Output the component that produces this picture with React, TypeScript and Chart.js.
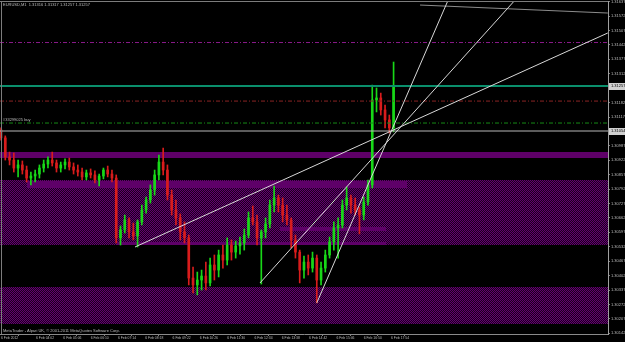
import { useEffect, useRef } from "react";
import { Chart, registerables } from "chart.js";

Chart.register(...registerables);

// ---- candle data (EURUSD, 6 Feb 2012), 10-minute candles ----
const candleTimes = [
  "02:40", "02:50",
  "03:00", "03:10", "03:20", "03:30", "03:40", "03:50",
  "04:00", "04:10", "04:20", "04:30", "04:40", "04:50",
  "05:00", "05:10", "05:20", "05:30", "05:40", "05:50",
  "06:00", "06:10", "06:20", "06:30", "06:40", "06:50",
  "07:00", "07:10", "07:20", "07:30", "07:40", "07:50",
  "08:00", "08:10", "08:20", "08:30", "08:40", "08:50",
  "09:00", "09:10", "09:20", "09:30", "09:40", "09:50",
  "10:00", "10:10", "10:20", "10:30", "10:40", "10:50",
  "11:00", "11:10", "11:20", "11:30", "11:40", "11:50",
  "12:00", "12:10", "12:20", "12:30", "12:40", "12:50",
  "13:00", "13:10", "13:20", "13:30", "13:40", "13:50",
  "14:00", "14:10", "14:20", "14:30", "14:40", "14:50",
  "15:00", "15:10", "15:20", "15:30", "15:40", "15:50",
  "16:00", "16:10", "16:20", "16:30", "16:40", "16:50",
  "17:00", "17:10", "17:20", "17:30", "17:40", "17:50",
  "18:00",
];

const openP = [
  1.31059, 1.31023, 1.30937, 1.30923, 1.30887, 1.30901, 1.30878, 1.30842, 1.30851, 1.30860,
  1.30887, 1.30905, 1.30923, 1.30910, 1.30887, 1.30901, 1.30914, 1.30892, 1.30878, 1.30869,
  1.30847, 1.30865, 1.30856, 1.30833, 1.30851, 1.30878, 1.30860, 1.30842, 1.30572, 1.30608,
  1.30653, 1.30599, 1.30581, 1.30644, 1.30698, 1.30743, 1.30788, 1.30856, 1.30914, 1.30878,
  1.30765, 1.30698, 1.30662, 1.30599, 1.30572, 1.30391, 1.30360, 1.30382, 1.30400, 1.30369,
  1.30450, 1.30427, 1.30495, 1.30472, 1.30540, 1.30508, 1.30536, 1.30549, 1.30585, 1.30662,
  1.30644, 1.30572, 1.30599, 1.30635, 1.30720, 1.30752, 1.30720, 1.30675, 1.30653, 1.30563,
  1.30508, 1.30427, 1.30463, 1.30436, 1.30481, 1.30382, 1.30436, 1.30495, 1.30554, 1.30617,
  1.30630, 1.30720, 1.30752, 1.30720, 1.30698, 1.30675, 1.30734, 1.30811, 1.31194, 1.31203,
  1.31149, 1.31104, 1.31068,
];
const highP = [
  1.31068, 1.31032, 1.30959, 1.30955, 1.30923, 1.30919, 1.30896, 1.30869, 1.30878, 1.30901,
  1.30923, 1.30937, 1.30959, 1.30923, 1.30914, 1.30928, 1.30932, 1.30910, 1.30901, 1.30887,
  1.30878, 1.30883, 1.30874, 1.30860, 1.30887, 1.30896, 1.30878, 1.30856, 1.30626, 1.30675,
  1.30662, 1.30639, 1.30653, 1.30720, 1.30756, 1.30811, 1.30878, 1.30946, 1.30977, 1.30901,
  1.30788, 1.30743, 1.30680, 1.30644, 1.30585, 1.30441, 1.30418, 1.30427, 1.30463, 1.30481,
  1.30495, 1.30517, 1.30540, 1.30572, 1.30563, 1.30558, 1.30576, 1.30612, 1.30689, 1.30716,
  1.30675, 1.30608, 1.30662, 1.30743, 1.30806, 1.30765, 1.30752, 1.30720, 1.30662, 1.30585,
  1.30517, 1.30490, 1.30495, 1.30508, 1.30495, 1.30463, 1.30517, 1.30576, 1.30644, 1.30662,
  1.30743, 1.30802, 1.30765, 1.30752, 1.30711, 1.30756, 1.30833, 1.31261, 1.31248, 1.31225,
  1.31171, 1.31126, 1.31365,
];
const lowP = [
  1.31013, 1.30923, 1.30901, 1.30869, 1.30847, 1.30860, 1.30824, 1.30811, 1.30824, 1.30842,
  1.30869, 1.30887, 1.30896, 1.30869, 1.30869, 1.30883, 1.30878, 1.30860, 1.30851, 1.30833,
  1.30833, 1.30842, 1.30820, 1.30806, 1.30838, 1.30847, 1.30824, 1.30549, 1.30540, 1.30594,
  1.30572, 1.30563, 1.30531, 1.30630, 1.30684, 1.30729, 1.30765, 1.30833, 1.30856, 1.30743,
  1.30675, 1.30630, 1.30563, 1.30549, 1.30360, 1.30324, 1.30315, 1.30337, 1.30337, 1.30355,
  1.30382, 1.30396, 1.30436, 1.30450, 1.30472, 1.30481, 1.30499, 1.30517, 1.30572, 1.30630,
  1.30540, 1.30364, 1.30572, 1.30617, 1.30689, 1.30689, 1.30644, 1.30630, 1.30527, 1.30481,
  1.30369, 1.30391, 1.30405, 1.30418, 1.30279, 1.30360, 1.30418, 1.30481, 1.30517, 1.30481,
  1.30617, 1.30698, 1.30684, 1.30675, 1.30590, 1.30653, 1.30720, 1.30797, 1.31140, 1.31126,
  1.31068, 1.31045, 1.31050,
];
const closeP = [
  1.31023, 1.30937, 1.30923, 1.30887, 1.30901, 1.30878, 1.30842, 1.30851, 1.30860, 1.30887,
  1.30905, 1.30923, 1.30910, 1.30887, 1.30901, 1.30914, 1.30892, 1.30878, 1.30869, 1.30847,
  1.30865, 1.30856, 1.30833, 1.30851, 1.30878, 1.30860, 1.30842, 1.30572, 1.30608, 1.30653,
  1.30599, 1.30581, 1.30644, 1.30698, 1.30743, 1.30788, 1.30856, 1.30914, 1.30878, 1.30765,
  1.30698, 1.30662, 1.30599, 1.30572, 1.30391, 1.30360, 1.30382, 1.30400, 1.30369, 1.30450,
  1.30427, 1.30495, 1.30472, 1.30540, 1.30508, 1.30536, 1.30549, 1.30585, 1.30662, 1.30644,
  1.30572, 1.30599, 1.30635, 1.30720, 1.30752, 1.30720, 1.30675, 1.30653, 1.30563, 1.30508,
  1.30427, 1.30463, 1.30436, 1.30481, 1.30382, 1.30436, 1.30495, 1.30554, 1.30617, 1.30630,
  1.30720, 1.30752, 1.30720, 1.30698, 1.30675, 1.30734, 1.30811, 1.31194, 1.31203, 1.31149,
  1.31104, 1.31068, 1.31257,
];

// ---- axis ticks ----
const priceTicks = [
  1.31637, 1.31572, 1.31507, 1.31442, 1.31377, 1.31312, 1.31247, 1.31182,
  1.31117, 1.31052, 1.30987, 1.30922, 1.30857, 1.30792, 1.30727, 1.30662,
  1.30597, 1.30532, 1.30467, 1.30402, 1.30337, 1.30272, 1.30207, 1.30142,
];
const timeTickTimes = [
  "02:40", "04:02", "05:06", "06:10", "07:14", "08:18", "09:22", "10:26",
  "11:30", "12:34", "13:38", "14:42", "15:46", "16:50", "17:54",
];
const timeTickLabels = [
  "6 Feb 2012", "6 Feb 04:02", "6 Feb 05:06", "6 Feb 06:10", "6 Feb 07:14",
  "6 Feb 08:18", "6 Feb 09:22", "6 Feb 10:26", "6 Feb 11:30", "6 Feb 12:34",
  "6 Feb 13:38", "6 Feb 14:42", "6 Feb 15:46", "6 Feb 16:50", "6 Feb 17:54",
];

// ---- objects ----
// horizontal lines
const hLinePrices = [1.31453, 1.31257, 1.31189, 1.3109, 1.31054];
const hLineColors = ["#8a1a8a", "#0a8f6c", "#8a2424", "#168a16", "#b8b8b8"];
const hLineWidths = [1, 2, 1, 1, 1];
const hLineDash = [[4, 2, 1, 2], [], [4, 2, 1, 2], [4, 2, 1, 2], []];

// trend lines: anchor times in minutes from 6 Feb 00:00
const trendT1 = [474, 767, 900, 1142];
const trendP1 = [1.30531, 1.30369, 1.30279, 1.31622];
const trendT2 = [1582, 1365, 1208, 1582];
const trendP2 = [1.31496, 1.31645, 1.31645, 1.31586];
const trendColors = ["#d8d8d8", "#d8d8d8", "#d8d8d8", "#8c8c8c"];

// rectangles (zones): minutes / prices
const zoneT1 = [0, 0, 0, 221, 814, 432];
const zoneT2 = [2000, 2000, 2000, 1112, 1062, 1062];
const zoneHigh = [1.30833, 1.30351, 1.30959, 1.30829, 1.30621, 1.30554];
const zoneLow = [1.3054, 1.30184, 1.30932, 1.30797, 1.30603, 1.3054];
const zoneKind = ["dither", "dither", "solid", "solid", "solid", "solid"];

const highlightPrices = [1.31257, 1.31054];
const titleText = "EURUSD,M1  1.31316 1.31317 1.31257 1.31257";
const orderText = "#33299025 buy";
const orderPrice = 1.3109;
const copyrightText = "MetaTrader - Alpari UK, \u00a9 2001-2011 MetaQuotes Software Corp.";

const FONT = "'Liberation Sans', Arial, sans-serif";
const UP = "#18d818";
const DOWN = "#d81c1c";
const TEXT = "#bcbcbc";

function toMin(s: string) {
  const [h, m] = s.split(":").map(Number);
  return h * 60 + m;
}

export default function App() {
  const ref = useRef<HTMLCanvasElement>(null);

  useEffect(() => {
    document.body.style.margin = "0";
    document.body.style.background = "#000";
    const canvas = ref.current!;
    const ctx = canvas.getContext("2d")!;

    const pc = document.createElement("canvas");
    pc.width = 2;
    pc.height = 2;
    const pctx = pc.getContext("2d")!;
    pctx.fillStyle = "#1a001e";
    pctx.fillRect(0, 0, 2, 2);
    pctx.fillStyle = "#640070";
    pctx.fillRect(0, 0, 1, 1);
    pctx.fillRect(1, 1, 1, 1);
    const pattern = ctx.createPattern(pc, "repeat")!;

    const times = candleTimes.map(toMin);
    const colors = closeP.map((c, i) => (c >= openP[i] ? UP : DOWN));
    const xMin = 157.6;
    const xMax = 1582.5;

    const datasets: any[] = [];
    trendT1.forEach((t, i) => {
      datasets.push({
        type: "line",
        data: [
          { x: t, y: trendP1[i] },
          { x: trendT2[i], y: trendP2[i] },
        ],
        borderColor: trendColors[i],
        borderWidth: 1,
        pointRadius: 0,
        order: 0,
      });
    });
    hLinePrices.forEach((p, i) => {
      datasets.push({
        type: "line",
        data: [
          { x: xMin, y: p },
          { x: xMax, y: p },
        ],
        borderColor: hLineColors[i],
        borderWidth: hLineWidths[i],
        borderDash: hLineDash[i],
        pointRadius: 0,
        order: 1,
      });
    });
    datasets.push({
      type: "bar",
      data: times.map((t, i) => ({ x: t, y: [openP[i], closeP[i]] })),
      backgroundColor: colors,
      barThickness: 2,
      grouped: false,
      order: 2,
    });
    datasets.push({
      type: "bar",
      data: times.map((t, i) => ({ x: t, y: [lowP[i], highP[i]] })),
      backgroundColor: colors,
      barThickness: 1,
      grouped: false,
      order: 3,
    });

    const decor = {
      id: "decor",
      beforeDraw(chart: any) {
        const c = chart.ctx;
        c.save();
        c.fillStyle = "#000";
        c.fillRect(0, 0, chart.width, chart.height);
        c.restore();
      },
      beforeDatasetsDraw(chart: any) {
        const c = chart.ctx;
        const a = chart.chartArea;
        const x = chart.scales.x;
        const y = chart.scales.y;
        c.save();
        c.beginPath();
        c.rect(a.left, a.top, a.right - a.left, a.bottom - a.top);
        c.clip();
        zoneHigh.forEach((hi, i) => {
          const x1 = Math.round(x.getPixelForValue(zoneT1[i]));
          const x2 = Math.round(x.getPixelForValue(zoneT2[i]));
          const y1 = Math.round(y.getPixelForValue(hi));
          const y2 = Math.round(y.getPixelForValue(zoneLow[i]));
          c.fillStyle = zoneKind[i] === "dither" ? pattern : "#5e0068";
          c.fillRect(x1, y1, x2 - x1, y2 - y1);
        });
        c.restore();
      },
      afterDatasetsDraw(chart: any) {
        const c = chart.ctx;
        const a = chart.chartArea;
        const y = chart.scales.y;
        c.save();
        c.fillStyle = "#7c7c7c";
        c.fillRect(0, a.top, a.right, 1);
        c.fillRect(1, a.top, 1, a.bottom - a.top);
        c.font = `4px ${FONT}`;
        c.fillStyle = TEXT;
        c.textBaseline = "middle";
        c.textAlign = "left";
        c.fillText(titleText, 3, 5);
        c.fillText(orderText, 3, y.getPixelForValue(orderPrice) - 3);
        c.fillText(copyrightText, 3, a.bottom - 3);
        highlightPrices.forEach((p) => {
          const py = y.getPixelForValue(p);
          c.fillStyle = "#d0d0d0";
          c.fillRect(a.right + 1, Math.round(py) - 3, chart.width - a.right, 7);
          c.fillStyle = "#000";
          c.fillText(p.toFixed(5), a.right + 3, py);
        });
        c.restore();
      },
    };

    const chart = new Chart(canvas, {
      type: "bar",
      data: { datasets },
      plugins: [decor],
      options: {
        responsive: false,
        animation: false,
        events: [],
        layout: { padding: { top: 1, left: 0, right: 0, bottom: 0 } },
        plugins: { legend: { display: false }, tooltip: { enabled: false } },
        scales: {
          x: {
            type: "linear",
            min: xMin,
            max: xMax,
            offset: false,
            afterFit: (s: any) => {
              s.height = 8;
              s.paddingLeft = 0;
              s.paddingRight = 0;
            },
            afterBuildTicks: (s: any) => {
              s.ticks = timeTickTimes.map((t) => ({ value: toMin(t) }));
            },
            ticks: {
              autoSkip: false,
              maxRotation: 0,
              minRotation: 0,
              align: "start",
              padding: 0,
              color: TEXT,
              font: { family: FONT, size: 3.4 },
              callback: (_v: any, i: number) => timeTickLabels[i],
            },
            grid: { drawOnChartArea: false, tickLength: 2, color: "#808080" },
            border: { color: "#8a8a8a", dash: [1, 1] },
          },
          y: {
            type: "linear",
            position: "right",
            min: 1.301387,
            max: 1.316402,
            afterFit: (s: any) => {
              s.width = 17;
              s.paddingTop = 0;
              s.paddingBottom = 0;
            },
            afterBuildTicks: (s: any) => {
              s.ticks = priceTicks.map((v) => ({ value: v }));
            },
            ticks: {
              autoSkip: false,
              padding: 1,
              color: TEXT,
              font: { family: FONT, size: 4 },
              callback: (v: any) => Number(v).toFixed(5),
            },
            grid: { drawOnChartArea: false, tickLength: 2, color: "#808080" },
            border: { color: "#a0a0a0" },
          },
        },
      } as any,
    });

    return () => chart.destroy();
  }, []);

  return (
    <canvas
      ref={ref}
      width={625}
      height={342}
      style={{ display: "block", width: 625, height: 342 }}
    />
  );
}
